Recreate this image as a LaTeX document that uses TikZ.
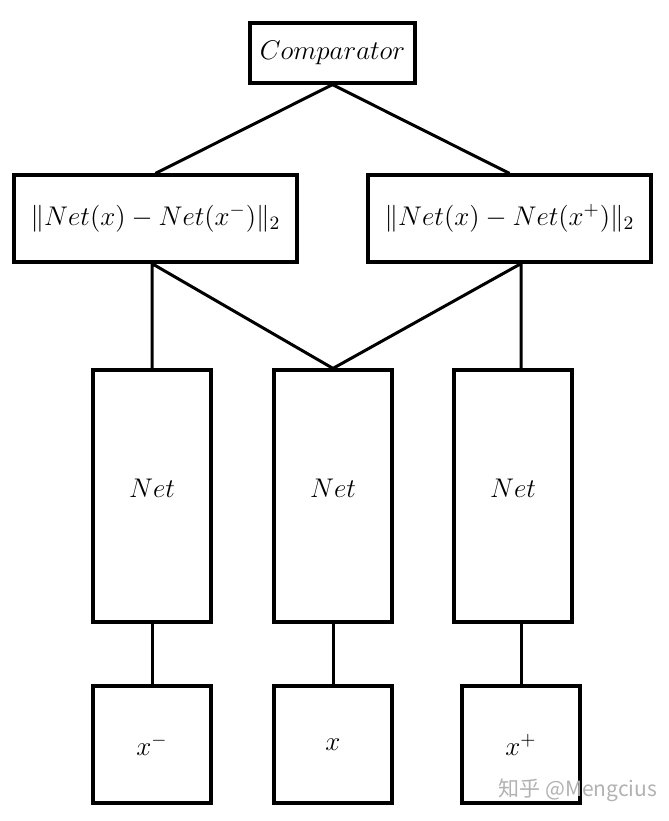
\RequirePackage{fix-cm}
\documentclass[tikz,border=0pt]{standalone}
\usepackage{amsmath, amssymb, xcolor, tikz}
\usepackage{fontspec}
\newfontfamily\cjk{Noto Sans CJK SC}

\begin{document}
\begin{tikzpicture}[x=0.5pt, y=-0.5pt,
    box/.style={draw, line width=1.6pt, fill=white, inner sep=0pt,
                font=\fontsize{13.5}{16}\selectfont},
    link/.style={line width=1.5pt}]
  \useasboundingbox (0,0) rectangle (669,821);
  % Comparator and distance boxes
  \node[box, minimum width=82.5pt, minimum height=30pt] (comp) at (332.5, 53) {$Comparator$};
  \node[box, minimum width=141.5pt, minimum height=43.5pt] (distneg) at (155.5, 218.5) {$\|Net(x)-Net(x^-)\|_2$};
  \node[box, minimum width=141.5pt, minimum height=43.5pt] (distpos) at (509.5, 218.5) {$\|Net(x)-Net(x^+)\|_2$};
  % Net branches
  \node[box, minimum width=59pt, minimum height=126pt, text depth=8pt] (netneg) at (152, 496) {$Net$};
  \node[box, minimum width=59pt, minimum height=126pt, text depth=8pt] (netanc) at (333, 496) {$Net$};
  \node[box, minimum width=59pt, minimum height=126pt, text depth=8pt] (netpos) at (513, 496) {$Net$};
  % Inputs
  \node[box, minimum width=59pt, minimum height=58.5pt] (inneg) at (152, 744.5) {$x^-$};
  \node[box, minimum width=59pt, minimum height=58.5pt] (inanc) at (333, 744.5) {$x$};
  \node[box, minimum width=59pt, minimum height=58.5pt] (inpos) at (521, 744.5) {$x^+$};
  % Connections
  \draw[link] (comp.south) -- (distneg.north);
  \draw[link] (comp.south) -- (distpos.north);
  \draw[link] (inneg.north) -- (netneg.south);
  \draw[link] (inanc.north) -- (netanc.south);
  \draw[link] (inpos.north) -- (inpos.north |- netpos.south);
  \draw[link] (netneg.north) -- (netneg.north |- distneg.south) -- (netanc.north);
  \draw[link] (inpos.north |- netpos.north) -- (inpos.north |- distpos.south) -- (netanc.north);
  % Watermark
  \node[text=gray!60, font=\cjk\fontsize{10.5}{12}\selectfont] (mark) at (578, 790) {知乎 @Mengcius};
\end{tikzpicture}
\end{document}
